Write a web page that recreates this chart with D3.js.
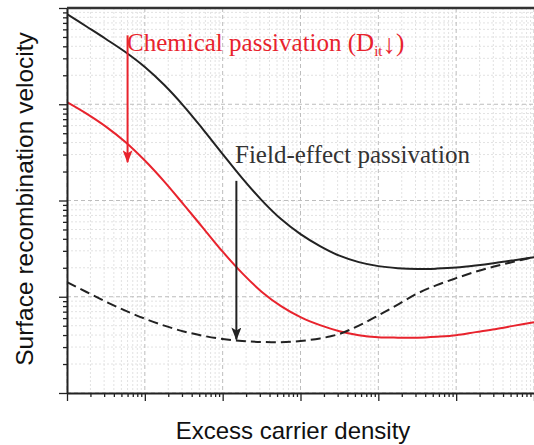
<!DOCTYPE html>
<html>
<head>
<meta charset="utf-8">
<script src="https://cdn.jsdelivr.net/npm/d3@7"></script>
<style>
  body { margin: 0; background: #fff; }
  svg { display: block; }
</style>
</head>
<body>
<div id="chart"></div>
<script>
// excess carrier density (arbitrary units, log axis)
const density = [1, 1.78, 3.16, 5.62, 10, 17.8, 31.6, 56.2, 100, 178, 316, 562,
  1e3, 1.78e3, 3.16e3, 5.62e3, 1e4, 1.78e4, 3.16e4, 5.62e4, 1e5, 1.78e5, 3.16e5, 5.62e5, 1e6];

// surface recombination velocity
const srvInitial = [8662, 6424, 4763, 3487, 2436, 1583, 958, 546, 304, 171, 101, 64.1,
  44.7, 33.6, 26.7, 22.9, 20.8, 19.8, 19.4, 19.6, 20.1, 21.1, 22.4, 24.0, 25.8];
const srvChemical = [1054, 800, 586, 405, 260, 157, 90.7, 51.7, 29.4, 17.6, 11.3, 7.99,
  6.14, 5.07, 4.39, 3.99, 3.80, 3.76, 3.76, 3.85, 3.99, 4.29, 4.60, 5.01, 5.45];
const srvFieldEffect = [14.2, 11.2, 8.89, 7.17, 5.92, 5.01, 4.36, 3.93, 3.64, 3.47, 3.39, 3.37,
  3.47, 3.69, 4.11, 5.01, 6.39, 8.28, 10.8, 13.2, 15.6, 18.2, 20.7, 23.2, 25.8];

const xDomain = [1, 1e6];
const yDomain = [1, 1e4];

const xLabel = "Excess carrier density";
const yLabel = "Surface recombination velocity";
const chemLabel = "Chemical passivation (D";
const fieldLabel = "Field-effect passivation";

var W = 534, H = 445;
var margin = {top: 8, right: 0, bottom: 52, left: 67},
    width = W - margin.left - margin.right,
    height = H - margin.top - margin.bottom;

var red = "#e8232d", dark = "#222";

var svg = d3.select("#chart")
  .append("svg")
  .attr("width", W)
  .attr("height", H);

var g = svg.append("g")
  .attr("transform", `translate(${margin.left},${margin.top})`);

var x = d3.scaleLog().domain(xDomain).range([0, width]);
var y = d3.scaleLog().domain(yDomain).range([height, 0]);

var isMajor = v => Math.abs(Math.log10(v) - Math.round(Math.log10(v))) < 1e-6;

// minor grid
g.append("g").selectAll("line")
  .data(x.ticks().filter(v => !isMajor(v)))
  .join("line")
  .attr("x1", d => x(d)).attr("x2", d => x(d))
  .attr("y1", 0).attr("y2", height)
  .attr("stroke", "#e2e2e2").attr("stroke-width", 1)
  .attr("stroke-dasharray", "2,2");
g.append("g").selectAll("line")
  .data(y.ticks().filter(v => !isMajor(v)))
  .join("line")
  .attr("y1", d => y(d)).attr("y2", d => y(d))
  .attr("x1", 0).attr("x2", width)
  .attr("stroke", "#e2e2e2").attr("stroke-width", 1)
  .attr("stroke-dasharray", "2,2");

// major grid
g.append("g").selectAll("line")
  .data(x.ticks().filter(isMajor))
  .join("line")
  .attr("x1", d => x(d)).attr("x2", d => x(d))
  .attr("y1", 0).attr("y2", height)
  .attr("stroke", "#bdbdbd").attr("stroke-width", 1)
  .attr("stroke-dasharray", "4,3");
g.append("g").selectAll("line")
  .data(y.ticks().filter(isMajor))
  .join("line")
  .attr("y1", d => y(d)).attr("y2", d => y(d))
  .attr("x1", 0).attr("x2", width)
  .attr("stroke", "#bdbdbd").attr("stroke-width", 1)
  .attr("stroke-dasharray", "4,3");

// curves
g.append("clipPath").attr("id", "clip")
  .append("rect").attr("width", width).attr("height", height);

var line = d3.line()
  .x(d => x(d[0]))
  .y(d => y(d[1]))
  .curve(d3.curveCatmullRom.alpha(0.5));

var series = [
  {vals: srvInitial, color: dark, dash: null},
  {vals: srvChemical, color: red, dash: null},
  {vals: srvFieldEffect, color: dark, dash: "10,5"}
];

g.append("g").attr("clip-path", "url(#clip)")
  .selectAll("path")
  .data(series)
  .join("path")
  .attr("d", s => line(density.map((d, i) => [d, s.vals[i]])))
  .attr("fill", "none")
  .attr("stroke", s => s.color)
  .attr("stroke-width", 2)
  .attr("stroke-dasharray", s => s.dash);

// axes: major ticks long, minor ticks short, no labels
g.append("g")
  .attr("transform", `translate(0,${height})`)
  .call(d3.axisBottom(x).tickValues(x.ticks().filter(v => !isMajor(v))).tickSize(4).tickFormat(""))
  .call(a => a.select(".domain").remove());
g.append("g")
  .attr("transform", `translate(0,${height})`)
  .call(d3.axisBottom(x).tickValues(x.ticks().filter(isMajor)).tickSize(8).tickSizeOuter(0).tickFormat(""));
g.append("g")
  .call(d3.axisLeft(y).tickValues(y.ticks().filter(v => !isMajor(v))).tickSize(4).tickFormat(""))
  .call(a => a.select(".domain").remove());
g.append("g")
  .call(d3.axisLeft(y).tickValues(y.ticks().filter(isMajor)).tickSize(8).tickSizeOuter(0).tickFormat(""));

g.selectAll(".tick line").attr("stroke", dark).attr("stroke-width", 1.3);
g.selectAll(".domain").attr("stroke", dark).attr("stroke-width", 2);

// top frame
g.append("line")
  .attr("x1", 0).attr("x2", width)
  .attr("y1", 0).attr("y2", 0)
  .attr("stroke", "#333").attr("stroke-width", 2.5);

// arrows
var defs = svg.append("defs");
function marker(id, color) {
  defs.append("marker")
    .attr("id", id)
    .attr("viewBox", "0 0 13 10")
    .attr("refX", 12).attr("refY", 5)
    .attr("markerWidth", 13).attr("markerHeight", 10)
    .attr("markerUnits", "userSpaceOnUse")
    .attr("orient", "auto")
    .append("path")
    .attr("d", "M0,0 L13,5 L0,10 L3,5 Z")
    .attr("fill", color);
}
marker("headRed", red);
marker("headDark", dark);

// chemical passivation arrow
g.append("line")
  .attr("x1", x(6.0)).attr("x2", x(6.0))
  .attr("y1", y(5200)).attr("y2", y(250))
  .attr("stroke", red).attr("stroke-width", 2)
  .attr("marker-end", "url(#headRed)");

// field-effect arrow
g.append("line")
  .attr("x1", x(150)).attr("x2", x(150))
  .attr("y1", y(160)).attr("y2", y(3.6))
  .attr("stroke", dark).attr("stroke-width", 2)
  .attr("marker-end", "url(#headDark)");

// annotations
var chem = svg.append("text")
  .attr("x", 127).attr("y", 51)
  .attr("font-family", "'Liberation Serif', 'Times New Roman', serif")
  .attr("font-size", 25)
  .attr("fill", red);
chem.append("tspan").text(chemLabel);
chem.append("tspan").attr("font-size", 15).attr("dy", 5).text("it");
chem.append("tspan").attr("font-size", 27).attr("dy", -3).text("↓");
chem.append("tspan").attr("dy", -2).text(")");

svg.append("text")
  .attr("x", 235).attr("y", 163)
  .attr("font-family", "'Liberation Serif', 'Times New Roman', serif")
  .attr("font-size", 25)
  .attr("fill", "#333")
  .text(fieldLabel);

// axis titles
svg.append("text")
  .attr("x", 293).attr("y", 439)
  .attr("text-anchor", "middle")
  .attr("font-family", "'Liberation Sans', Arial, sans-serif")
  .attr("font-size", 24)
  .attr("fill", "#111")
  .text(xLabel);

svg.append("text")
  .attr("transform", "translate(33,199) rotate(-90)")
  .attr("text-anchor", "middle")
  .attr("font-family", "'Liberation Sans', Arial, sans-serif")
  .attr("font-size", 24.5)
  .attr("fill", "#111")
  .text(yLabel);
</script>
</body>
</html>
